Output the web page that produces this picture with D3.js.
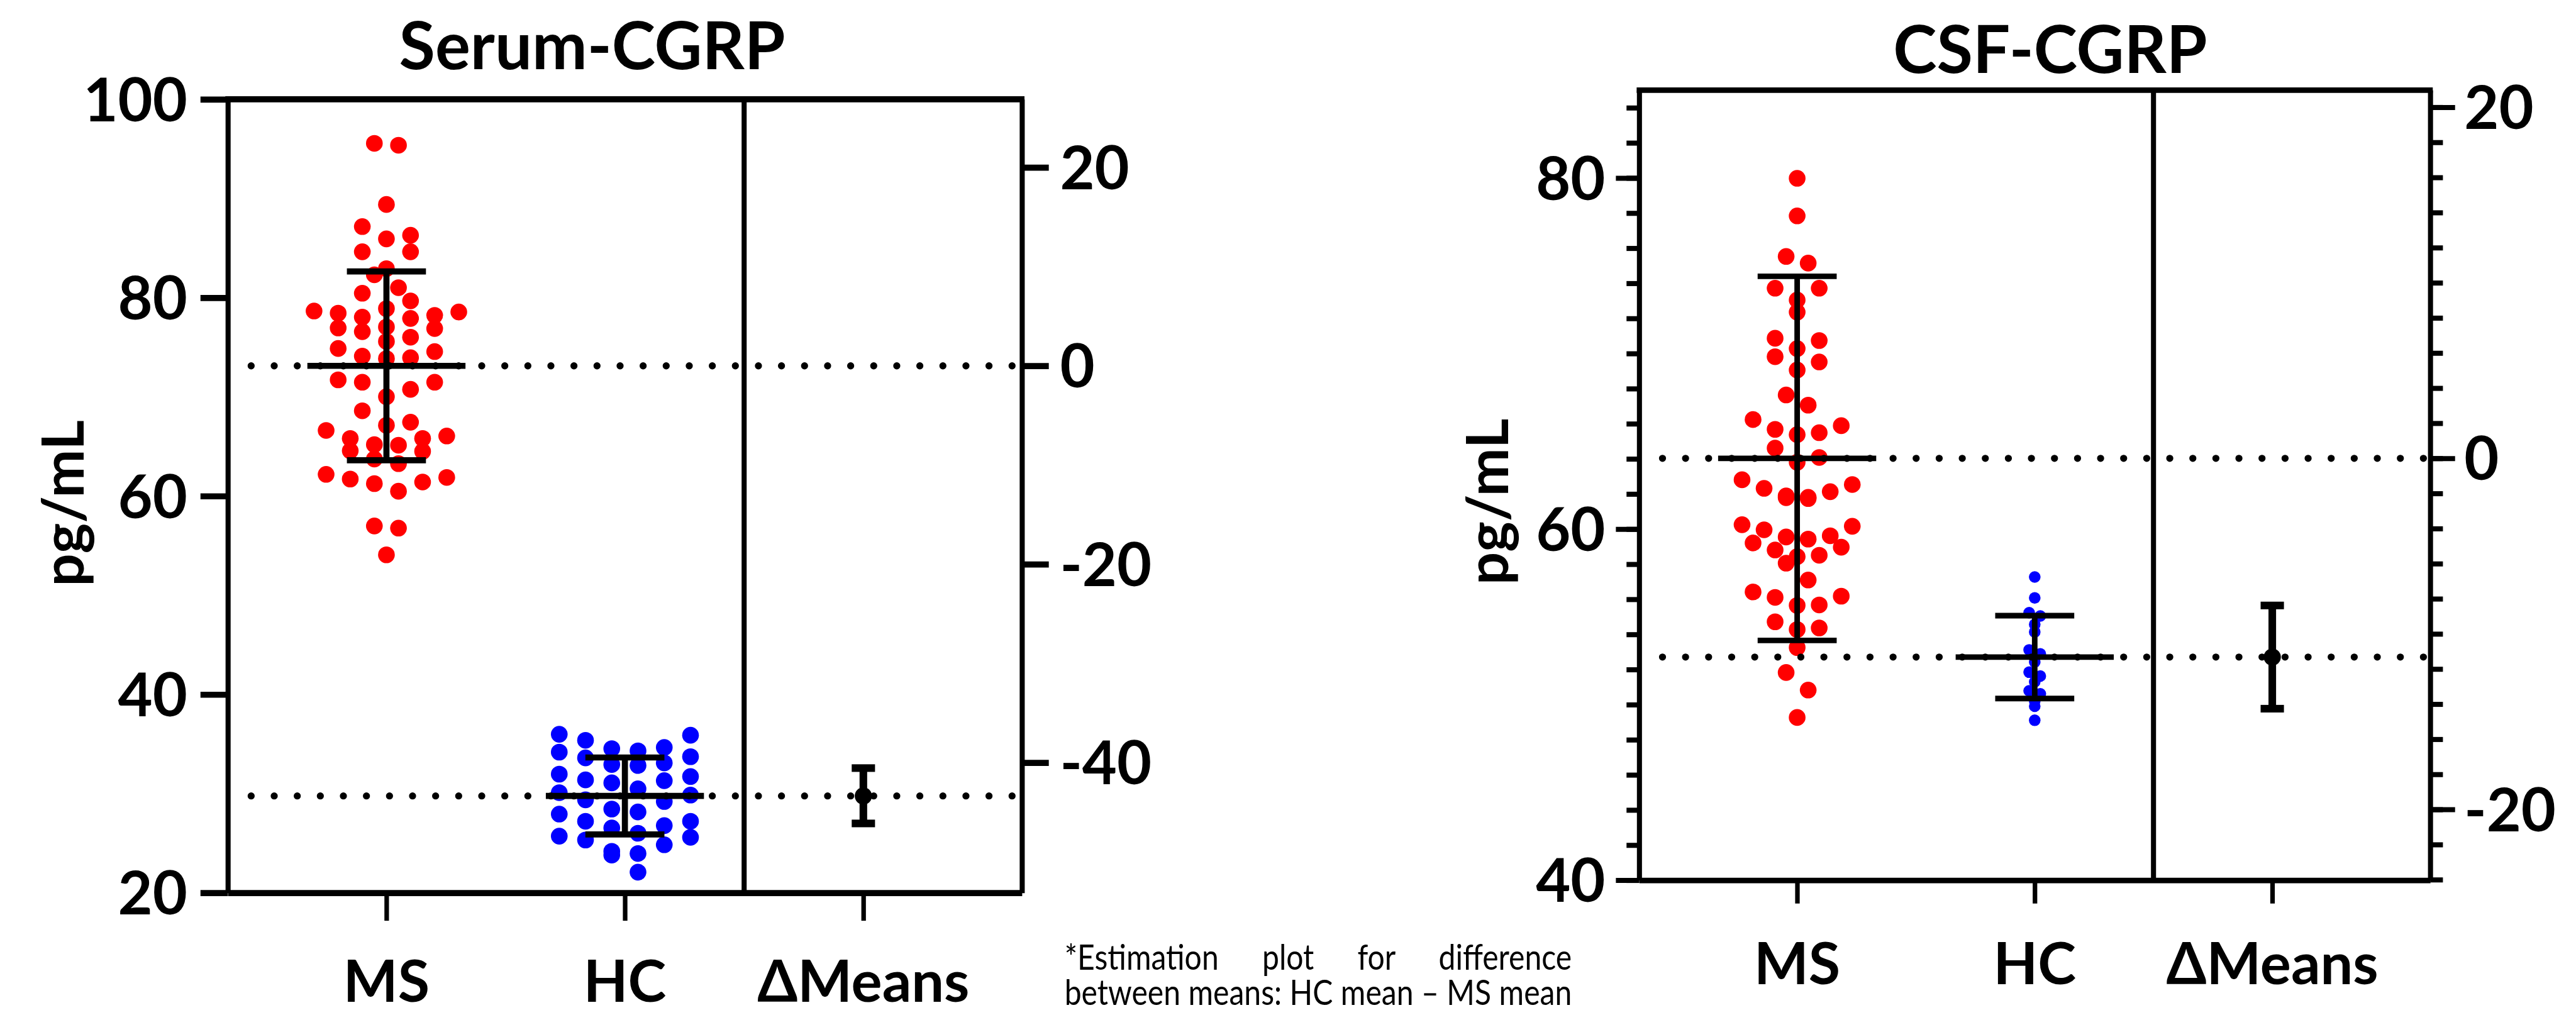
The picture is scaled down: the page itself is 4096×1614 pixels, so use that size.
<!DOCTYPE html>
<html>
<head>
<meta charset="utf-8">
<title>Serum and CSF CGRP</title>
<script src="https://d3js.org/d3.v7.min.js"></script>
<style>
  body { margin: 0; background: #fff; }
  svg { display: block; }
  .note {
    font-family: Lato, 'Open Sans', sans-serif;
    font-weight: 400;
    font-size: 70px;
    line-height: 69px;
    color: #000;
    text-align: justify;
    text-align-last: justify;
    white-space: normal;
    transform-origin: 0 0;
  }
</style>
</head>
<body>
<script>
// categories on the x axis of both panels
const groups = ["MS", "HC", "\u0394Means"];

// Serum-CGRP, pg/mL
const serumMS = [95.56, 95.37, 89.40, 87.17, 86.30, 85.93, 84.63, 84.63, 82.93, 82.31, 81.01, 80.45,
  79.68, 78.90, 78.66, 78.56, 78.44, 78.22, 78.04, 77.91, 77.05, 76.95, 76.89, 76.58, 76.02, 75.59,
  74.88, 74.57, 74.11, 73.95, 73.86, 71.72, 71.48, 71.48, 70.76, 70.02, 68.60, 67.45, 67.14, 66.62,
  66.06, 65.81, 65.81, 65.19, 65.13, 64.57, 64.51, 63.74, 63.27, 62.19, 61.88, 61.72, 61.42, 61.26,
  60.49, 56.99, 56.77, 54.08];
const serumHC = [35.99, 35.89, 35.38, 34.66, 34.54, 34.32, 34.19, 33.73, 33.61, 33.10, 32.94, 32.84,
  31.97, 31.73, 31.39, 31.31, 31.09, 30.49, 30.10, 29.86, 29.38, 29.21, 28.45, 28.16, 27.94, 27.22,
  27.22, 26.78, 26.54, 26.01, 25.72, 25.60, 25.33, 24.85, 24.19, 23.97, 23.81, 22.09];
const serumMeans = [73.13, 29.77];          // MS, HC
const serumSD = [9.52, 3.88];
const serumDiff = -43.36;                    // HC mean - MS mean
const serumDiffCI = [-46.13, -40.55];
const serumTicks = [20, 40, 60, 80, 100];
const serumDiffTicks = [-40, -20, 0, 20];

// CSF-CGRP, pg/mL
const csfMS = [79.98, 77.84, 75.53, 75.15, 73.72, 73.72, 73.05, 72.36, 70.87, 70.74, 70.28, 69.82,
  69.52, 69.06, 67.64, 67.06, 66.24, 65.89, 65.68, 65.49, 65.38, 64.61, 64.08, 63.81, 62.81, 62.54,
  62.32, 62.13, 61.89, 61.81, 61.79, 61.74, 60.25, 60.16, 59.96, 59.62, 59.55, 59.43, 59.21, 58.97,
  58.81, 58.51, 58.43, 58.06, 57.10, 56.42, 56.18, 56.11, 55.68, 55.65, 54.72, 54.37, 54.28, 53.25,
  51.83, 50.83, 49.27];
const csfHC = [57.27, 56.08, 55.24, 55.05, 54.57, 54.14, 53.12, 52.89, 52.43, 51.85, 51.63, 51.30,
  50.79, 50.62, 50.21, 49.91, 49.11];
const csfMeans = [64.03, 52.71];
const csfSD = [10.37, 2.36];
const csfDiff = -11.32;
const csfDiffCI = [-14.26, -8.38];
const csfTicks = [40, 60, 80];
const csfDiffTicks = [-20, 0, 20];

const footnote = ["*Estimation plot for difference", "between means: HC mean \u2013 MS mean"];

const FONT = "Lato, 'Open Sans', sans-serif";

// everything below is laid out in the reference's pixel units and scaled by the viewBox
const svg = d3.select("body").append("svg")
  .attr("width", 4096)
  .attr("height", 1614)
  .attr("viewBox", "0 0 5082 2003");

// GraphPad-like scatter: points binned into rows, each row centred on the category
function swarm(values, y, slot, binPx, maxRow) {
  const pts = values.map(v => ({ v, y: y(v) })).sort((a, b) => a.y - b.y);
  const rows = [];
  let cur = [];
  pts.forEach(p => {
    if (cur.length && (p.y - cur[0].y > binPx || cur.length >= maxRow)) { rows.push(cur); cur = []; }
    cur.push(p);
  });
  if (cur.length) rows.push(cur);
  rows.forEach(row => {
    const n = row.length;
    row.forEach((p, i) => {
      const k = i % 2 === 0 ? i / 2 : n - 1 - (i - 1) / 2;
      p.dx = (k - (n - 1) / 2) * slot;
    });
  });
  return pts;
}

function styleAxis(sel, tickW, domainW) {
  sel.attr("font-family", FONT).attr("font-size", 118).attr("font-weight", 700);
  sel.select(".domain").attr("stroke", "#000").attr("stroke-width", domainW);
  sel.selectAll(".tick line").attr("stroke", "#000").attr("stroke-width", tickW);
  sel.selectAll(".tick text").attr("fill", "#000").attr("dy", "0.36em");
}

function drawPanel(p) {
  const g = svg.append("g");
  const x = d3.scalePoint().domain(groups).range([p.x0, p.x1]).padding(0.665);
  const y = d3.scaleLinear().domain(p.yDomain).range([p.yBot, p.yTop]);
  const yR = d3.scaleLinear()
    .domain(p.yDomain.map(v => v - p.means[0]))
    .range([p.yBot, p.yTop]);

  // data points
  p.sets.forEach((s, i) => {
    const pts = swarm(s.values, y, s.slot, s.bin, s.maxRow);
    g.append("g").selectAll("circle")
      .data(pts)
      .join("circle")
      .attr("cx", d => x(groups[i]) + d.dx)
      .attr("cy", d => d.y)
      .attr("r", s.r)
      .attr("fill", s.color);
  });

  // dotted reference lines at the two group means
  g.append("g").selectAll("line")
    .data(p.means)
    .join("line")
    .attr("x1", p.x0 + 46).attr("x2", p.x1 - 10)
    .attr("y1", d => y(d)).attr("y2", d => y(d))
    .attr("stroke", "#000")
    .attr("stroke-width", 14)
    .attr("stroke-linecap", "round")
    .attr("stroke-dasharray", "0 45.5");

  // mean +/- SD
  const eb = g.append("g").attr("stroke", "#000").attr("stroke-width", p.barW);
  p.means.forEach((m, i) => {
    const cx = x(groups[i]);
    eb.append("line").attr("x1", cx - 156).attr("x2", cx + 156).attr("y1", y(m)).attr("y2", y(m));
    eb.append("line").attr("x1", cx).attr("x2", cx)
      .attr("y1", y(m + p.sd[i])).attr("y2", y(m - p.sd[i]));
    [m + p.sd[i], m - p.sd[i]].forEach(v => {
      eb.append("line").attr("x1", cx - 78).attr("x2", cx + 78).attr("y1", y(v)).attr("y2", y(v));
    });
  });

  // difference between means with its CI, on the right-hand axis
  const cd = x(groups[2]);
  const dg = g.append("g");
  dg.append("line").attr("x1", cd).attr("x2", cd)
    .attr("y1", yR(p.ci[0])).attr("y2", yR(p.ci[1]))
    .attr("stroke", "#000").attr("stroke-width", 15);
  dg.selectAll("rect").data(p.ci).join("rect")
    .attr("x", cd - 23).attr("width", 46)
    .attr("y", d => yR(d) - 7.5).attr("height", 15)
    .attr("fill", "#000");
  dg.append("circle").attr("cx", cd).attr("cy", yR(p.diff)).attr("r", 17).attr("fill", "#000");

  // frame: top line and divider
  g.append("line").attr("x1", p.x0 - p.vw / 2).attr("x2", p.x1 + p.vw / 2)
    .attr("y1", p.yTop).attr("y2", p.yTop)
    .attr("stroke", "#000").attr("stroke-width", p.hw);
  const xDiv = (x(groups[1]) + x(groups[2])) / 2;
  g.append("line").attr("x1", xDiv).attr("x2", xDiv)
    .attr("y1", p.yTop).attr("y2", p.yBot)
    .attr("stroke", "#000").attr("stroke-width", p.vw);

  // y axes
  if (p.minor) {
    g.append("g").attr("transform", `translate(${p.x0},0)`)
      .call(d3.axisLeft(y).tickValues(d3.range(p.yDomain[0], p.yDomain[1], p.minor))
        .tickSize(25).tickFormat(() => ""))
      .call(s => { s.select(".domain").remove(); s.selectAll("line").attr("stroke-width", 10); });
    const rd = yR.domain();
    g.append("g").attr("transform", `translate(${p.x1},0)`)
      .call(d3.axisRight(yR)
        .tickValues(d3.range(Math.ceil(rd[0] / p.minor) * p.minor, rd[1], p.minor))
        .tickSize(25).tickFormat(() => ""))
      .call(s => { s.select(".domain").remove(); s.selectAll("line").attr("stroke-width", 10); });
  }
  g.append("g").attr("transform", `translate(${p.x0},0)`)
    .call(d3.axisLeft(y).tickValues(p.ticks).tickFormat(d => String(d))
      .tickSize(p.tickL).tickPadding(p.padL).tickSizeOuter(0))
    .call(s => styleAxis(s, p.tickW, p.vw));
  g.append("g").attr("transform", `translate(${p.x1},0)`)
    .call(d3.axisRight(yR).tickValues(p.diffTicks).tickFormat(d => String(d))
      .tickSize(p.tickR).tickPadding(p.padR).tickSizeOuter(0))
    .call(s => styleAxis(s, p.tickW, p.vw));

  // x axis
  g.append("g").attr("transform", `translate(0,${p.yBot})`)
    .call(d3.axisBottom(x).tickSize(p.tickX).tickFormat(() => "").tickSizeOuter(0))
    .call(s => {
      s.select(".domain").attr("stroke-width", p.hw);
      s.selectAll(".tick line").attr("stroke-width", 9);
    });

  g.append("g").selectAll("text")
    .data(groups)
    .join("text")
    .attr("x", d => x(d))
    .attr("y", p.catY)
    .attr("text-anchor", "middle")
    .attr("font-family", FONT).attr("font-weight", 700).attr("font-size", 114)
    .text(d => d);

  // title and axis title
  g.append("text")
    .attr("x", p.titleX).attr("y", p.titleY)
    .attr("text-anchor", "middle")
    .attr("font-family", FONT).attr("font-weight", 700).attr("font-size", 130)
    .text(p.title);
  g.append("text")
    .attr("transform", `translate(${p.labelX},${p.labelY}) rotate(-90)`)
    .attr("text-anchor", "middle")
    .attr("font-family", FONT).attr("font-weight", 700).attr("font-size", 114)
    .text("pg/mL");
}

drawPanel({
  title: "Serum-CGRP", titleX: 1168, titleY: 136,
  x0: 449, x1: 2016, yTop: 196, yBot: 1762, yDomain: [20, 100],
  ticks: serumTicks, diffTicks: serumDiffTicks, minor: 0,
  means: serumMeans, sd: serumSD, diff: serumDiff, ci: serumDiffCI,
  hw: 12, vw: 10, barW: 12, tickW: 12, tickL: 54, padL: 26, tickR: 53, padR: 22, tickX: 55,
  catY: 1977, labelX: 164, labelY: 993,
  sets: [
    { values: serumMS, color: "#ff0000", r: 16.5, slot: 47.6, bin: 35, maxRow: 7 },
    { values: serumHC, color: "#0000ff", r: 16.5, slot: 51.8, bin: 80, maxRow: 6 }
  ]
});

drawPanel({
  title: "CSF-CGRP", titleX: 4045, titleY: 144,
  x0: 3234, x1: 4795, yTop: 178, yBot: 1737, yDomain: [40, 85],
  ticks: csfTicks, diffTicks: csfDiffTicks, minor: 2,
  means: csfMeans, sd: csfSD, diff: csfDiff, ci: csfDiffCI,
  hw: 11, vw: 10, barW: 11, tickW: 10, tickL: 46, padL: 21, tickR: 49, padR: 18, tickX: 46,
  catY: 1942, labelX: 2975, labelY: 990,
  sets: [
    { values: csfMS, color: "#ff0000", r: 16.5, slot: 43.5, bin: 36, maxRow: 6 },
    { values: csfHC, color: "#0000ff", r: 11.5, slot: 22, bin: 10, maxRow: 3 }
  ]
});

// footnote: justified block, condensed so the second line spans the reference width
const fnLeft = 2100, fnRight = 3101, fnTop = 1853;
const probe = svg.append("text")
  .attr("font-family", FONT).attr("font-weight", 400).attr("font-size", 70)
  .text(footnote[1]);
const natural = probe.node().getComputedTextLength() + 2;
probe.remove();
const sx = (fnRight - fnLeft) / natural;
svg.append("foreignObject")
  .attr("x", fnLeft).attr("y", fnTop)
  .attr("width", natural).attr("height", 2003 - fnTop)
  .append("xhtml:div")
  .attr("class", "note")
  .style("width", `${natural}px`)
  .style("transform", `scaleX(${sx})`)
  .html(footnote.join("<br>"));
</script>
</body>
</html>
